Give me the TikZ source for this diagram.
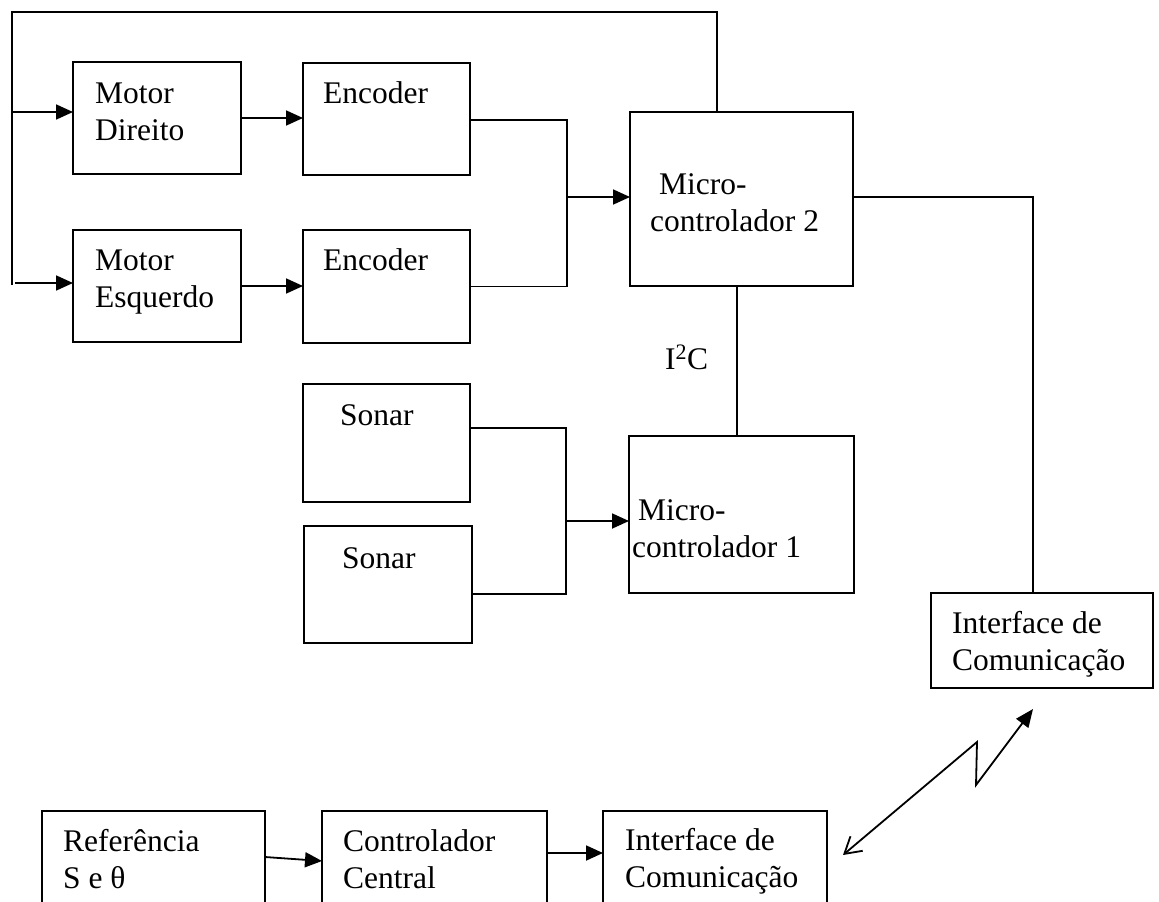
\documentclass[tikz,border=0pt]{standalone}
\usepackage{fontspec}
\setmainfont{Liberation Serif}
\usetikzlibrary{arrows.meta,calc}
\begin{document}
\begin{tikzpicture}[x=1pt,y=-1pt,
  blk/.style={draw, line width=2pt, inner sep=0pt, outer sep=0pt, anchor=north west},
  wire/.style={line width=1.8pt},
  arr/.style={wire, -{Triangle[length=17pt,width=15pt]}},
  txt/.style={font=\fontsize{31.5}{37}\selectfont, anchor=base west, inner sep=0pt, align=left}]
\useasboundingbox (0,0) rectangle (1159,902);
\clip (0,0) rectangle (1159,902);

% blocks
\node[blk, minimum width=168pt, minimum height=112pt] (md)  at (73,62)   {};
\node[blk, minimum width=167pt, minimum height=112pt] (ed)  at (303,63)  {};
\node[blk, minimum width=168pt, minimum height=112pt] (me)  at (73,230)  {};
\node[blk, minimum width=167pt, minimum height=113pt] (ee)  at (303,230) {};
\node[blk, minimum width=223pt, minimum height=174pt] (mc2) at (630,112) {};
\node[blk, minimum width=167pt, minimum height=118pt] (s1)  at (303,384) {};
\node[blk, minimum width=168pt, minimum height=117pt] (s2)  at (304,526) {};
\node[blk, minimum width=225pt, minimum height=157pt] (mc1) at (629,436) {};
\node[blk, minimum width=222pt, minimum height=95pt]  (ir)  at (931,593) {};
\node[blk, minimum width=223pt, minimum height=120pt] (rf)  at (42,811)  {};
\node[blk, minimum width=225pt, minimum height=120pt] (cc)  at (322,811) {};
\node[blk, minimum width=224pt, minimum height=120pt] (ib)  at (603,811) {};

% block texts (base anchor sits on the last line)
\node[txt] (tmd)  at (95,140)  {Motor\\Direito};
\node[txt] (ted)  at (323,103) {Encoder};
\node[txt] (tme)  at (95,307)  {Motor\\Esquerdo};
\node[txt] (tee)  at (323,270) {Encoder};
\node[txt] (tmc2a) at (659,194) {Micro-};
\node[txt] (tmc2b) at (650,231) {controlador 2};
\node[txt] (ts1)  at (340,425) {Sonar};
\node[txt] (ts2)  at (342,568) {Sonar};
\node[txt] (tmc1a) at (638,520) {Micro-};
\node[txt] (tmc1b) at (632,557) {controlador 1};
\node[txt] (ti2c) at (665,369) {I\textsuperscript{2}C};
\node[txt] (tir)  at (952,670) {Interface de\\Comunica\c{c}\~ao};
\node[txt] (trf)  at (63,888)  {Refer\^encia\\S e θ};
\node[txt] (tcc)  at (343,888) {Controlador\\Central};
\node[txt] (tib)  at (625,887) {Interface de\\Comunica\c{c}\~ao};

% feedback loop from micro-controlador 2 to both motors
\coordinate (fbR) at (717,12);
\coordinate (fbL) at (12,12);
\coordinate (fbB) at (12,285);
\draw[wire] (fbR |- mc2.north) -- (fbR) -- (fbL) -- (fbB);
\draw[arr] ([yshift=6pt]md.west -| fbL) -- ([yshift=6pt]md.west);
\draw[arr] ([yshift=3pt]me.west -| 15,0) -- ([yshift=3pt]me.west);

% motors to encoders
\draw[arr] (md.east) -- (md.east -| ed.west);
\draw[arr] (me.east) -- (me.east -| ee.west);

% encoders to micro-controlador 2
\coordinate (j1) at (567,0);
\draw[wire] ([yshift=-1pt]ed.east) -- ([yshift=-1pt]ed.east -| j1) -- (ee.east -| j1) -- (ee.east);
\draw[arr] (j1 |- 0,197) -- (mc2.west |- 0,197);

% sonars to micro-controlador 1
\coordinate (j2) at (566,0);
\draw[wire] (s1.east |- 0,428) -- (j2 |- 0,428) -- (j2 |- 0,594) -- (s2.east |- 0,594);
\draw[arr] (j2 |- 0,521) -- (mc1.west |- 0,521);

% I2C bus
\coordinate (bus) at (737,0);
\draw[wire] (bus |- mc2.south) -- (bus |- mc1.north);

% micro-controlador 2 to the on-board interface
\coordinate (rx) at (1033,0);
\draw[wire] (mc2.east |- 0,197) -- (rx |- 0,197) -- (rx |- ir.north);

% ground station chain
\draw[arr] (rf.east |- 0,857) -- (cc.west |- 0,861);
\draw[arr] (cc.east |- 0,853) -- (ib.west |- 0,853);

% wireless link
\coordinate (wA) at (843,855);
\coordinate (wB) at (977,742);
\coordinate (wC) at (976,785);
\coordinate (wD) at (1033,709);
\draw[wire, {Straight Barb[length=16pt,width=19pt]}-{Triangle[length=18pt,width=15pt]}]
  (wA) -- (wB) -- (wC) -- (wD);
\end{tikzpicture}
\end{document}
